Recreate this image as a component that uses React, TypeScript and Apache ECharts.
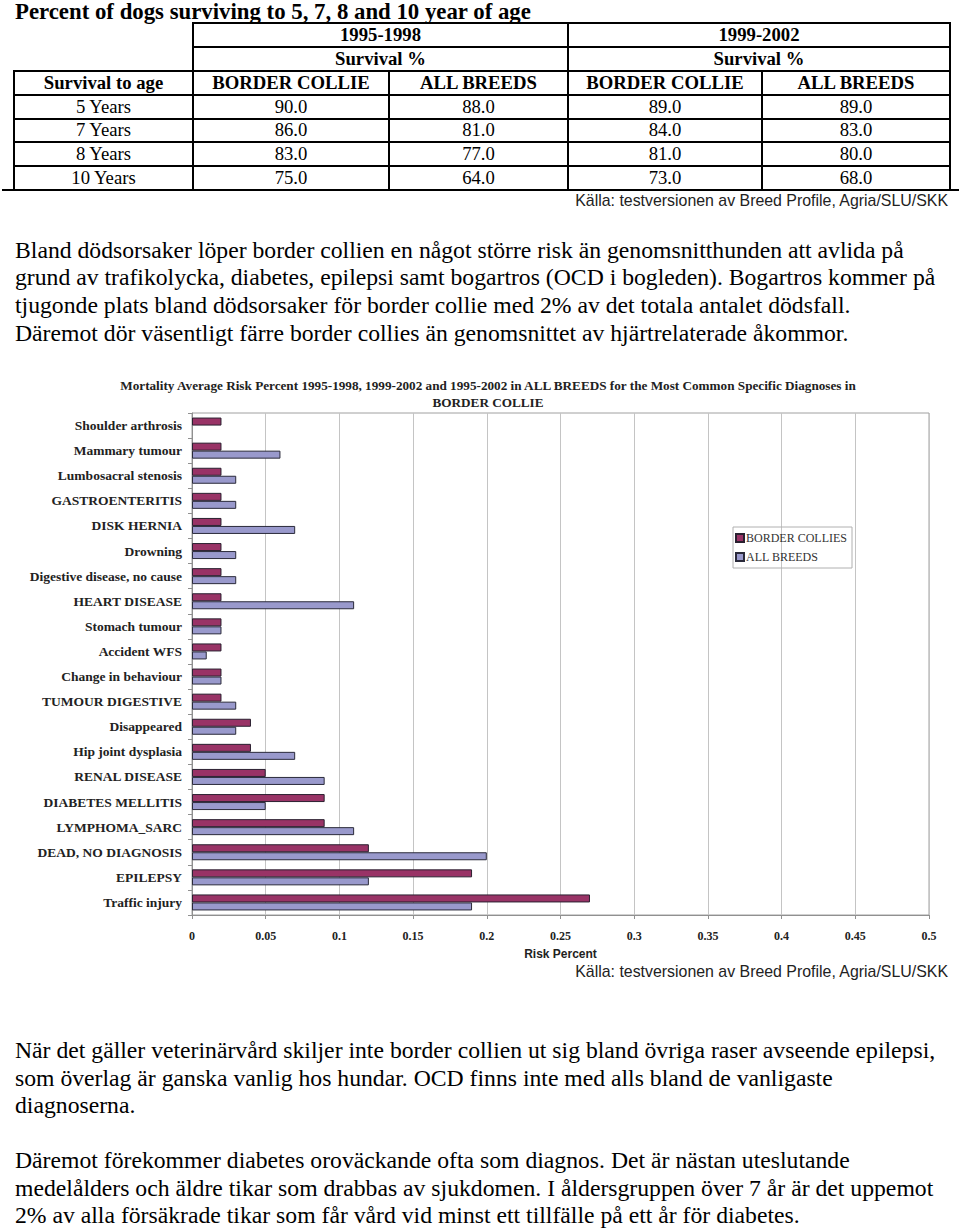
import React, { useEffect, useRef } from "react";
import * as echarts from "echarts";

// ---------- Page texts ----------
const pageTitle = "Percent of dogs surviving to 5, 7, 8 and 10 year of age";
const periods = ["1995-1998", "1999-2002"];
const subHeader = "Survival %";
const firstColHeader = "Survival to age";
const groupHeaders = ["BORDER COLLIE", "ALL BREEDS", "BORDER COLLIE", "ALL BREEDS"];
const ageLabels = ["5 Years", "7 Years", "8 Years", "10 Years"];
const borderCollie9598 = [90.0, 86.0, 83.0, 75.0];
const allBreeds9598 = [88.0, 81.0, 77.0, 64.0];
const borderCollie9902 = [89.0, 84.0, 81.0, 73.0];
const allBreeds9902 = [89.0, 83.0, 80.0, 68.0];
const sourceText = "Källa: testversionen av Breed Profile, Agria/SLU/SKK";

const paragraph1 = [
  "Bland dödsorsaker löper border collien en något större risk än genomsnitthunden att avlida på",
  "grund av trafikolycka, diabetes, epilepsi samt bogartros (OCD i bogleden). Bogartros kommer på",
  "tjugonde plats bland dödsorsaker för border collie med 2% av det totala antalet dödsfall.",
  "Däremot dör väsentligt färre border collies än genomsnittet av hjärtrelaterade åkommor.",
];
const paragraph2 = [
  "När det gäller veterinärvård skiljer inte border collien ut sig bland övriga raser avseende epilepsi,",
  "som överlag är ganska vanlig hos hundar. OCD finns inte med alls bland de vanligaste",
  "diagnoserna.",
];
const paragraph3 = [
  "Däremot förekommer diabetes oroväckande ofta som diagnos. Det är nästan uteslutande",
  "medelålders och äldre tikar som drabbas av sjukdomen. I åldersgruppen över 7 år är det uppemot",
  "2% av alla försäkrade tikar som får vård vid minst ett tillfälle på ett år för diabetes.",
];

// ---------- Chart data ----------
const chartTitle =
  "Mortality Average Risk Percent 1995-1998, 1999-2002 and 1995-2002 in ALL BREEDS for the Most Common Specific Diagnoses in\nBORDER COLLIE";
const seriesNames = ["BORDER COLLIES", "ALL BREEDS"];
const diagnoses = [
  "Shoulder arthrosis",
  "Mammary tumour",
  "Lumbosacral stenosis",
  "GASTROENTERITIS",
  "DISK HERNIA",
  "Drowning",
  "Digestive disease, no cause",
  "HEART DISEASE",
  "Stomach tumour",
  "Accident WFS",
  "Change in behaviour",
  "TUMOUR DIGESTIVE",
  "Disappeared",
  "Hip joint dysplasia",
  "RENAL DISEASE",
  "DIABETES MELLITIS",
  "LYMPHOMA_SARC",
  "DEAD, NO DIAGNOSIS",
  "EPILEPSY",
  "Traffic injury",
];
const borderColliesRisk = [
  0.02, 0.02, 0.02, 0.02, 0.02, 0.02, 0.02, 0.02, 0.02, 0.02, 0.02, 0.02, 0.04, 0.04, 0.05, 0.09,
  0.09, 0.12, 0.19, 0.27,
];
const allBreedsRisk = [
  null, 0.06, 0.03, 0.03, 0.07, 0.03, 0.03, 0.11, 0.02, 0.01, 0.02, 0.03, 0.03, 0.07, 0.09, 0.05,
  0.11, 0.2, 0.12, 0.19,
];
const xAxisName = "Risk Percent";
const xMin = 0;
const xMax = 0.5;
const xInterval = 0.05;

const SERIF = '"Liberation Serif", "Times New Roman", Times, serif';
const SANS = '"Liberation Sans", Arial, Helvetica, sans-serif';

const colX = [14, 193, 389, 568, 762, 950];
const rowY = [23, 47, 71, 95, 118.5, 142, 166, 189.5];

function HLine({ x1, x2, y, w = 2 }: { x1: number; x2: number; y: number; w?: number }) {
  return (
    <div
      style={{ position: "absolute", left: x1 - 1, top: y - w / 2, width: x2 - x1 + 2, height: w, background: "#000" }}
    />
  );
}
function VLine({ x, y1, y2, w = 2 }: { x: number; y1: number; y2: number; w?: number }) {
  return (
    <div
      style={{ position: "absolute", left: x - w / 2, top: y1 - 1, width: w, height: y2 - y1 + 2, background: "#000" }}
    />
  );
}
function Cell({
  x1,
  x2,
  y1,
  y2,
  text,
  bold,
}: {
  x1: number;
  x2: number;
  y1: number;
  y2: number;
  text: string;
  bold?: boolean;
}) {
  return (
    <div
      style={{
        position: "absolute",
        left: x1,
        top: y1,
        width: x2 - x1,
        height: y2 - y1,
        display: "flex",
        alignItems: "center",
        justifyContent: "center",
        fontFamily: SERIF,
        fontSize: 18.7,
        fontWeight: bold ? "bold" : "normal",
        color: "#000",
        whiteSpace: "nowrap",
      }}
    >
      {text}
    </div>
  );
}

function TextLines({ lines, ys }: { lines: string[]; ys: number[] }) {
  return (
    <>
      {lines.map((t, i) => (
        <div
          key={i}
          style={{
            position: "absolute",
            left: 15,
            top: ys[i] - 14,
            height: 28,
            lineHeight: "28px",
            fontFamily: SERIF,
            fontSize: 23.7,
            color: "#000",
            whiteSpace: "nowrap",
          }}
        >
          {t}
        </div>
      ))}
    </>
  );
}

function SurvivalTable() {
  const cols = [borderCollie9598, allBreeds9598, borderCollie9902, allBreeds9902];
  const cells: React.ReactNode[] = [];
  cells.push(<Cell key="p0" x1={colX[1]} x2={colX[3]} y1={rowY[0]} y2={rowY[1]} text={periods[0]} bold />);
  cells.push(<Cell key="p1" x1={colX[3]} x2={colX[5]} y1={rowY[0]} y2={rowY[1]} text={periods[1]} bold />);
  cells.push(<Cell key="s0" x1={colX[1]} x2={colX[3]} y1={rowY[1]} y2={rowY[2]} text={subHeader} bold />);
  cells.push(<Cell key="s1" x1={colX[3]} x2={colX[5]} y1={rowY[1]} y2={rowY[2]} text={subHeader} bold />);
  cells.push(<Cell key="h0" x1={colX[0]} x2={colX[1]} y1={rowY[2]} y2={rowY[3]} text={firstColHeader} bold />);
  groupHeaders.forEach((g, i) =>
    cells.push(<Cell key={"g" + i} x1={colX[i + 1]} x2={colX[i + 2]} y1={rowY[2]} y2={rowY[3]} text={g} bold />)
  );
  ageLabels.forEach((a, r) => {
    cells.push(<Cell key={"a" + r} x1={colX[0]} x2={colX[1]} y1={rowY[r + 3]} y2={rowY[r + 4]} text={a} />);
    cols.forEach((c, i) =>
      cells.push(
        <Cell
          key={"v" + r + "_" + i}
          x1={colX[i + 1]}
          x2={colX[i + 2]}
          y1={rowY[r + 3]}
          y2={rowY[r + 4]}
          text={c[r].toFixed(1)}
        />
      )
    );
  });
  const lines: React.ReactNode[] = [];
  lines.push(<HLine key="l0" x1={colX[1]} x2={colX[5]} y={rowY[0]} />);
  lines.push(<HLine key="l1" x1={colX[1]} x2={colX[5]} y={rowY[1]} />);
  for (let r = 2; r < rowY.length - 1; r++) lines.push(<HLine key={"lr" + r} x1={colX[0]} x2={colX[5]} y={rowY[r]} />);
  lines.push(<HLine key="lb" x1={3} x2={958} y={rowY[rowY.length - 1]} />);
  lines.push(<VLine key="v0" x={colX[0]} y1={rowY[2]} y2={rowY[7]} />);
  lines.push(<VLine key="v1" x={colX[1]} y1={rowY[0]} y2={rowY[7]} />);
  lines.push(<VLine key="v2" x={colX[2]} y1={rowY[2]} y2={rowY[7]} />);
  lines.push(<VLine key="v3" x={colX[3]} y1={rowY[0]} y2={rowY[7]} />);
  lines.push(<VLine key="v4" x={colX[4]} y1={rowY[2]} y2={rowY[7]} />);
  lines.push(<VLine key="v5" x={colX[5]} y1={rowY[0]} y2={rowY[7]} />);
  return (
    <>
      {cells}
      {lines}
    </>
  );
}

function SourceNote({ y }: { y: number }) {
  return (
    <div
      style={{
        position: "absolute",
        right: 12,
        top: y - 10,
        height: 20,
        lineHeight: "20px",
        fontFamily: SANS,
        fontSize: 15.9,
        color: "#222",
        whiteSpace: "nowrap",
      }}
    >
      {sourceText}
    </div>
  );
}

function RiskChart() {
  const ref = useRef<HTMLDivElement>(null);
  useEffect(() => {
    if (!ref.current) return;
    const chart = echarts.init(ref.current, undefined, { renderer: "svg" });
    chart.setOption({
      animation: false,
      title: {
        text: chartTitle,
        left: 483,
        top: 7,
        textAlign: "center",
        textStyle: { fontFamily: SERIF, fontWeight: "bold", fontSize: 13.2, lineHeight: 17, color: "#222" },
      },
      legend: {
        orient: "vertical",
        left: 733,
        top: 162,
        padding: [4, 5, 4, 2],
        itemGap: 5,
        itemWidth: 8,
        itemHeight: 8,
        icon: "rect",
        borderColor: "#b0b0b0",
        borderWidth: 1,
        textStyle: { fontFamily: SERIF, fontSize: 12, color: "#333", padding: [0, 0, 0, -3], lineHeight: 14 },
        data: seriesNames,
      },
      grid: {
        left: 192,
        top: 48,
        width: 737,
        height: 506,
        show: true,
        borderColor: "#a0a0a0",
        borderWidth: 1,
      },
      xAxis: {
        type: "value",
        min: xMin,
        max: xMax,
        interval: xInterval,
        name: xAxisName,
        nameLocation: "middle",
        nameGap: 33,
        nameTextStyle: { fontFamily: SANS, fontWeight: "bold", fontSize: 12, color: "#222" },
        axisLine: { show: true, lineStyle: { color: "#909090" } },
        axisTick: { show: true, length: 4, lineStyle: { color: "#909090" } },
        axisLabel: { fontFamily: SERIF, fontWeight: "bold", fontSize: 12, color: "#222", margin: 15 },
        splitLine: { show: true, lineStyle: { color: "#c4c4c4" } },
      },
      yAxis: {
        type: "category",
        inverse: true,
        data: diagnoses,
        axisLine: { show: true, lineStyle: { color: "#909090" } },
        axisTick: { show: true, length: 4, lineStyle: { color: "#909090" } },
        axisLabel: { fontFamily: SERIF, fontWeight: "bold", fontSize: 13.5, color: "#222", margin: 10 },
        splitLine: { show: false },
      },
      series: [
        {
          name: seriesNames[0],
          type: "bar",
          data: borderColliesRisk,
          barWidth: 8,
          barGap: "0%",
          itemStyle: { color: "#993366", borderColor: "#2a2030", borderWidth: 1 },
        },
        {
          name: seriesNames[1],
          type: "bar",
          data: allBreedsRisk,
          barWidth: 8,
          barGap: "0%",
          itemStyle: { color: "#9999cc", borderColor: "#2a2a3a", borderWidth: 1 },
        },
      ],
    });
    return () => chart.dispose();
  }, []);
  return <div ref={ref} style={{ position: "absolute", left: 0, top: 365, width: 960, height: 600 }} />;
}

export default function App() {
  return (
    <div
      style={{
        position: "absolute",
        left: 0,
        top: 0,
        width: 960,
        height: 1230,
        background: "#fff",
        overflow: "hidden",
      }}
    >
      <div
        style={{
          position: "absolute",
          left: 15,
          top: -1,
          height: 26,
          lineHeight: "26px",
          fontFamily: SERIF,
          fontWeight: "bold",
          fontSize: 22.8,
          color: "#000",
          whiteSpace: "nowrap",
        }}
      >
        {pageTitle}
      </div>
      <SurvivalTable />
      <SourceNote y={201} />
      <TextLines lines={paragraph1} ys={[250, 277, 305, 333]} />
      <RiskChart />
      <SourceNote y={972} />
      <TextLines lines={paragraph2} ys={[1050, 1078, 1105]} />
      <TextLines lines={paragraph3} ys={[1160, 1188, 1215]} />
    </div>
  );
}
